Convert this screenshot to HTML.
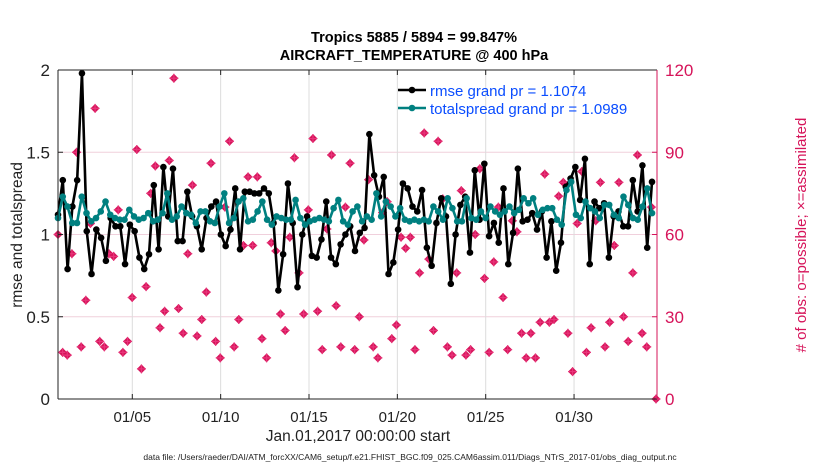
<!DOCTYPE html>
<html><head><meta charset="utf-8"><style>
body{margin:0;background:#fff;}
svg text{font-family:"Liberation Sans",Arial,sans-serif;}
</style></head><body>
<svg id="chart" width="830" height="470" xmlns="http://www.w3.org/2000/svg">
<rect width="830" height="470" fill="#fff"/>
<g id="grid"></g>
<g id="series"></g>
<g id="axes"></g>
</svg>
<script>
const rmse=[1.12,1.33,0.79,1.17,1.33,1.98,1.02,0.76,1.03,0.98,0.84,1.1,
1.05,1.05,0.82,1.06,1.02,0.86,0.79,0.88,1.30,0.91,1.41,1.11,1.40,0.96,0.96,1.26,1.11,1.05,0.91,1.10,1.17,1.20,1.0,0.93,1.03,1.28,0.91,1.26,
1.26,1.25,1.25,1.28,1.25,1.07,0.66,0.88,1.31,1.07,0.68,1.0,1.11,0.87,0.86,0.97,1.2,0.86,0.82,0.94,1.0,1.05,0.9,1.01,1.04,1.61,1.36,1.23,1.35,0.76,
0.83,1.03,1.31,1.28,1.17,1.14,1.27,0.92,0.81,1.07,1.22,1.11,0.7,1.0,1.18,1.23,0.89,1.39,1.09,1.43,0.99,1.07,0.95,1.28,0.82,1.01,1.4,1.08,
1.09,1.13,1.03,1.14,0.86,1.08,0.78,0.95,1.29,1.34,1.41,1.21,1.46,0.82,1.2,1.16,1.19,0.86,1.11,1.14,1.05,1.05,1.33,1.14,1.42,0.92,1.32];
const spread=[1.10,1.23,1.17,1.07,1.07,1.23,1.13,1.08,1.10,1.14,1.2,1.12,
1.1,1.09,1.09,1.15,1.11,1.09,1.1,1.13,1.08,1.09,1.13,1.25,1.09,1.11,1.17,1.13,1.12,1.07,1.14,1.14,1.08,1.07,1.17,1.25,1.07,1.1,1.2,1.22,1.08,
1.09,1.14,1.2,1.09,1.06,1.11,1.1,1.09,1.09,1.21,1.1,1.06,1.08,1.09,1.1,1.09,1.08,1.16,1.21,1.08,1.06,1.14,1.17,1.08,1.11,1.09,1.25,1.11,1.2,1.17,
1.11,1.16,1.09,1.08,1.09,1.08,1.09,1.08,1.17,1.14,1.09,1.22,1.16,1.08,1.08,1.22,1.1,1.09,1.14,1.1,1.17,1.14,1.12,1.14,1.17,1.13,1.15,1.22,
1.19,1.22,1.12,1.15,1.16,1.16,1.09,1.06,1.27,1.32,1.12,1.1,1.2,1.16,1.14,1.1,1.18,1.18,1.12,1.1,1.23,1.18,1.1,1.09,1.17,1.28,1.13];
const obsCount=[60,17,16,53,90,19,36,64,106,21,19,53,
52,69,17,21,37,91,11,41,75,85,26,32,87,117,33,24,53,78,23,29,39,86,21,15,70,94,19,29,56,81,
56,81,22,15,57,54,31,25,59,88,46,31,69,95,32,18,62,89,34,19,70,86,18,30,58,80,19,15,68,72,22,
27,59,55,59,18,46,97,51,25,94,73,19,16,46,76,16,18,60,84,44,17,50,70,37,18,65,61,24,15,
24,15,28,82,28,29,74,79,24,10,64,83,17,26,65,79,19,28,56,79,30,21,46,89,24,19,70,0];
const leftTicks=[0,0.5,1,1.5,2];
const leftTickLabels=["0","0.5","1","1.5","2"];
const rightTicks=[0,30,60,90,120];
const dateTicks=[5,10,15,20,25,30];
const dateTickLabels=["01/05","01/10","01/15","01/20","01/25","01/30"];

const X0=58,X1=657,Y0=399,Y1=70;
const yL=v=>Y0-(v/2)*(Y0-Y1);
const yR=v=>Y0-(v/120)*(Y0-Y1);
const xDay=d=>132.3+(d-5)*17.67;
const xIdx=(i,n,last)=>X0+i*((last-X0)/(n-1));
const NS="http://www.w3.org/2000/svg";
function mk(tag,attrs,parent){const e=document.createElementNS(NS,tag);for(const k in attrs)e.setAttribute(k,attrs[k]);parent.appendChild(e);return e;}
const grid=document.getElementById('grid'),ser=document.getElementById('series'),ax=document.getElementById('axes');

leftTicks.forEach((t,i)=>{
  if(i>0&&i<leftTicks.length-1){const l=mk('line',{x1:X0,x2:X1,y1:yL(t),y2:yL(t),stroke:'#f0d0dc','stroke-width':1},grid);
  
  }
  const tx=mk('text',{x:X0-8,y:yL(t)+6,'text-anchor':'end','font-size':17,fill:'#222'},ax);tx.textContent=leftTickLabels[i];
  
  
  mk('line',{x1:X0,x2:X0+5,y1:yL(t),y2:yL(t),stroke:'#222'},ax);
});
dateTicks.forEach((d,i)=>{
  const l=mk('line',{x1:xDay(d),x2:xDay(d),y1:Y1,y2:Y0,stroke:'#dcdcdc','stroke-width':1},grid);
  
  
  mk('line',{x1:xDay(d),x2:xDay(d),y1:Y0,y2:Y0-5,stroke:'#222'},ax);
  mk('line',{x1:xDay(d),x2:xDay(d),y1:Y1,y2:Y1+5,stroke:'#222'},ax);
  const tx=mk('text',{x:xDay(d),y:Y0+23,'text-anchor':'middle','font-size':15,fill:'#222'},ax);tx.textContent=dateTickLabels[i];
  
  
});
rightTicks.forEach(t=>{
  mk('line',{x1:X1,x2:X1-5,y1:yR(t),y2:yR(t),stroke:'#d6145a'},ax);
  const tx=mk('text',{x:X1+8,y:yR(t)+6,'font-size':17,fill:'#d6145a'},ax);tx.textContent=String(t);
  
  
});

obsCount.forEach((v,i)=>{
  const x=xIdx(i,obsCount.length,656),y=yR(v);
  const g=mk('g',{},ser);
  
  
  mk('path',{d:`M${x-4.5},${y}L${x},${y-4.5}L${x+4.5},${y}L${x},${y+4.5}Z`,fill:'#d6145a'},g);
  mk('path',{d:`M${x-4.5},${y}H${x+4.5}M${x},${y-4.5}V${y+4.5}`,stroke:'#e8357a','stroke-width':1.2},g);
});
function drawSeries(arr,color,name,r){
  const pts=arr.map((v,i)=>[xIdx(i,arr.length,652),yL(v)]);
  const pl=mk('polyline',{points:pts.map(p=>p.join(',')).join(' '),fill:'none',stroke:color,'stroke-width':2.6,'stroke-linejoin':'round'},ser);
  
  
  pts.forEach(p=>{const c=mk('circle',{cx:p[0],cy:p[1],r:r,fill:color},ser);
    
    });
}
drawSeries(rmse,'#000','rmse',3.3);
drawSeries(spread,'#008080','totalspread',3.3);

mk('line',{x1:X0,x2:X1,y1:Y1,y2:Y1,stroke:'#222'},ax);
mk('line',{x1:X0,x2:X1,y1:Y0,y2:Y0,stroke:'#222'},ax);
mk('line',{x1:X0,x2:X0,y1:Y1,y2:Y0,stroke:'#222'},ax);
mk('line',{x1:X1,x2:X1,y1:Y1,y2:Y0,stroke:'#d6145a'},ax);
</script>
<svg style="position:absolute;left:0;top:0" width="830" height="470" xmlns="http://www.w3.org/2000/svg">
<text x="414" y="42" text-anchor="middle" font-size="14.5" font-weight="bold" fill="#000">Tropics 5885 / 5894 = 99.847%</text>
<text x="414" y="60" text-anchor="middle" font-size="14.5" font-weight="bold" fill="#000">AIRCRAFT_TEMPERATURE @ 400 hPa</text>
<text transform="translate(22,235) rotate(-90)" text-anchor="middle" font-size="15.5" fill="#222">rmse and totalspread</text>
<text transform="translate(806,235) rotate(-90)" text-anchor="middle" font-size="15" fill="#d6145a"># of obs: o=possible; ×=assimilated</text>
<text x="358" y="441" text-anchor="middle" font-size="15.5" fill="#222">Jan.01,2017 00:00:00 start</text>
<text x="410" y="460" text-anchor="middle" font-size="8.5" fill="#222">data file: /Users/raeder/DAI/ATM_forcXX/CAM6_setup/f.e21.FHIST_BGC.f09_025.CAM6assim.011/Diags_NTrS_2017-01/obs_diag_output.nc</text>
<g>
<line x1="398" x2="426" y1="90" y2="90" stroke="#000" stroke-width="2.6"/><circle cx="412" cy="90" r="3.3" fill="#000"/>
<text x="430" y="96" font-size="15" fill="#0a4dff">rmse grand pr = 1.1074</text>
<line x1="398" x2="426" y1="108" y2="108" stroke="#008080" stroke-width="2.6"/><circle cx="412" cy="108" r="3.3" fill="#008080"/>
<text x="430" y="114" font-size="15" fill="#0a4dff">totalspread grand pr = 1.0989</text>
</g>
</svg>
</body></html>
